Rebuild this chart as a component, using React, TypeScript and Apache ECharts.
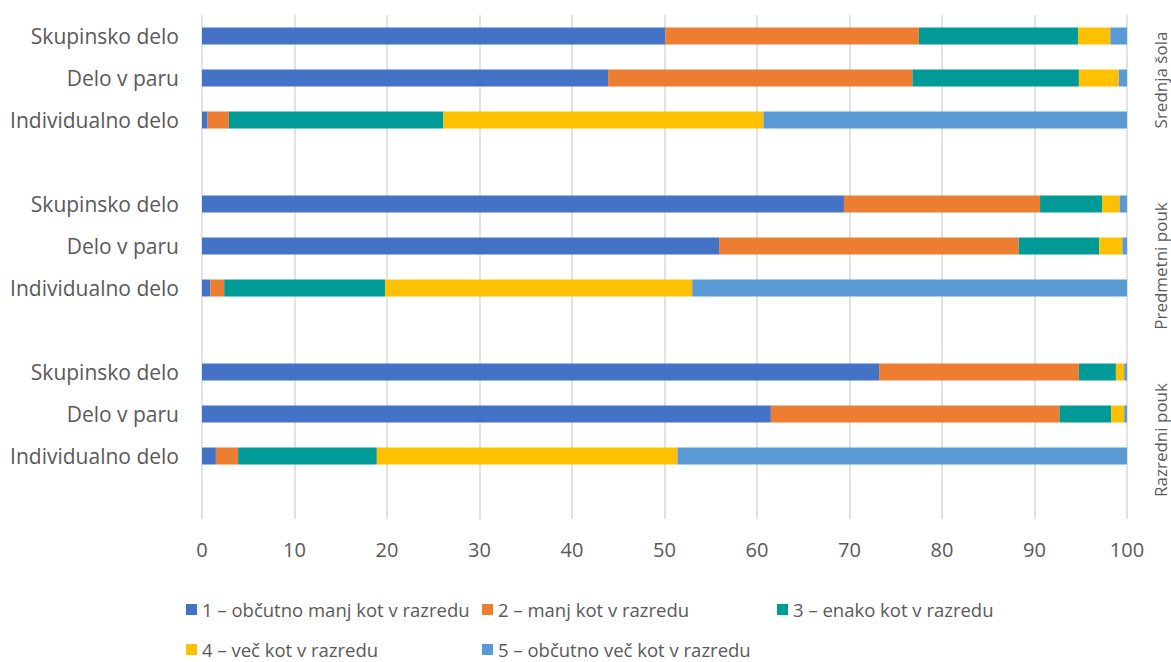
import React, { useEffect, useRef } from "react";
import * as echarts from "echarts";

// Row labels inside each school level, top to bottom
const rowLabels = ["Skupinsko delo", "Delo v paru", "Individualno delo"];
// School levels, top to bottom
const groupLabels = ["Srednja šola", "Predmetni pouk", "Razredni pouk"];
const seriesNames = [
  "1 – občutno manj kot v razredu",
  "2 – manj kot v razredu",
  "3 – enako kot v razredu",
  "4 – več kot v razredu",
  "5 – občutno več kot v razredu",
];
const seriesColors = ["#4472C4", "#ED7D31", "#009B96", "#FFC000", "#5B9BD5"];
const xTicks = [0, 10, 20, 30, 40, 50, 60, 70, 80, 90, 100];

// Shares (%) per row, order: SŠ (skupinsko, par, individualno), PP (...), RP (...)
const answer1 = [50.1, 43.9, 0.6, 69.4, 55.9, 0.9, 73.2, 61.5, 1.5];
const answer2 = [27.4, 32.9, 2.3, 21.2, 32.4, 1.5, 21.6, 31.2, 2.4];
const answer3 = [17.2, 18.0, 23.2, 6.7, 8.7, 17.4, 4.0, 5.6, 15.0];
const answer4 = [3.5, 4.3, 34.6, 1.9, 2.5, 33.2, 0.9, 1.4, 32.5];
const answer5 = [1.8, 0.9, 39.3, 0.8, 0.5, 47.0, 0.3, 0.3, 48.6];

const FONT = "'Open Sans', sans-serif";
const TEXT = "#595959";

// Each school level gets its three rows followed by an empty spacer row
function buildCategories(): string[] {
  const out: string[] = [];
  groupLabels.forEach(() => {
    rowLabels.forEach((r) => out.push(r));
    out.push("");
  });
  return out;
}

function withSpacers(values: number[]): (number | null)[] {
  const out: (number | null)[] = [];
  groupLabels.forEach((_, g) => {
    for (let r = 0; r < rowLabels.length; r++) out.push(values[g * rowLabels.length + r]);
    out.push(null);
  });
  return out;
}

const legendPos = [
  { left: 186, top: 600 },
  { left: 482, top: 600 },
  { left: 777, top: 600 },
  { left: 186, top: 640 },
  { left: 482, top: 640 },
];
const groupLabelY = [80, 266, 440];

export default function App() {
  const ref = useRef<HTMLDivElement>(null);

  useEffect(() => {
    document.body.style.margin = "0";
    if (!ref.current) return;
    const chart = echarts.init(ref.current, null, { renderer: "svg" });
    const categories = buildCategories();
    const allValues = [answer1, answer2, answer3, answer4, answer5];

    chart.setOption({
      animation: false,
      backgroundColor: "#ffffff",
      textStyle: { fontFamily: FONT },
      grid: { left: 202, right: 44, top: 15, bottom: 143 },
      xAxis: {
        type: "value",
        min: xTicks[0],
        max: xTicks[xTicks.length - 1],
        interval: 10,
        axisLine: { show: false },
        axisTick: { show: false },
        splitLine: { show: true, lineStyle: { color: "#D9D9D9", width: 1.5 } },
        axisLabel: { color: TEXT, fontSize: 20, fontFamily: FONT, margin: 20 },
      },
      yAxis: {
        type: "category",
        inverse: true,
        data: categories,
        axisLine: { show: false },
        axisTick: { show: false },
        splitLine: { show: false },
        axisLabel: { color: TEXT, fontSize: 21, fontFamily: FONT, margin: 23 },
      },
      legend: seriesNames.map((name, i) => ({
        data: [name],
        left: legendPos[i].left,
        top: legendPos[i].top,
        icon: "rect",
        itemWidth: 11,
        itemHeight: 11,
        padding: 0,
        selectedMode: false,
        textStyle: { color: TEXT, fontSize: 18.5, fontFamily: FONT },
      })),
      series: seriesNames.map((name, i) => ({
        name,
        type: "bar",
        stack: "total",
        barWidth: 17,
        itemStyle: { color: seriesColors[i] },
        data: withSpacers(allValues[i]),
      })),
      graphic: groupLabels.map((label, i) => ({
        type: "text",
        x: 1160,
        y: groupLabelY[i],
        rotation: Math.PI / 2,
        style: {
          text: label,
          fill: TEXT,
          fontSize: 17,
          fontFamily: FONT,
          align: "center",
          verticalAlign: "middle",
        },
      })),
    });

    return () => chart.dispose();
  }, []);

  return <div ref={ref} style={{ width: 1171, height: 662 }} />;
}
